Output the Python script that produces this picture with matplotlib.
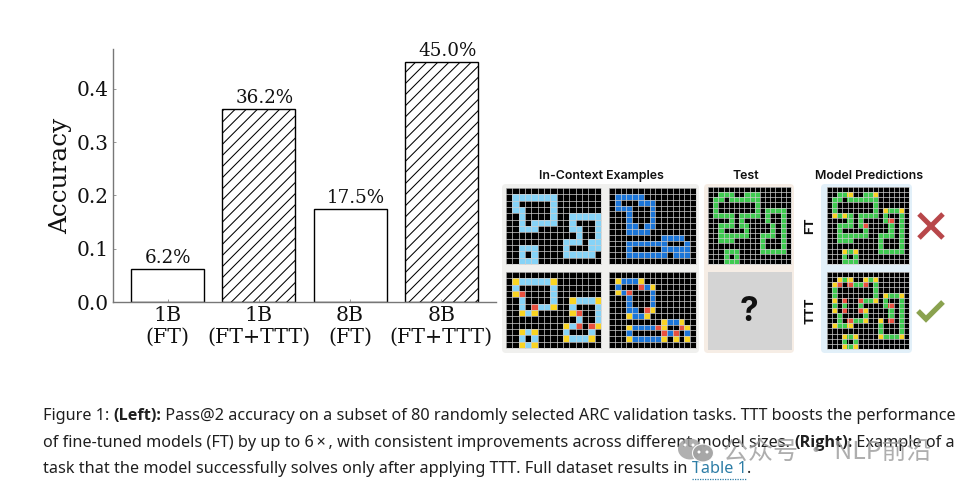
import numpy as np
import matplotlib
matplotlib.use('Agg')
import matplotlib.pyplot as plt
from matplotlib.patches import FancyBboxPatch, Ellipse, Circle
from matplotlib.colors import to_rgb
from matplotlib.transforms import offset_copy

W, H = 963, 488
plt.rcParams['hatch.linewidth'] = 0.75

categories = ['1B\n(FT)', '1B\n(FT+TTT)', '8B\n(FT)', '8B\n(FT+TTT)']
accuracy = [0.062, 0.362, 0.175, 0.450]
value_labels = ['6.2%', '36.2%', '17.5%', '45.0%']
hatches = ['', '///', '', '///']
yticks = [0.0, 0.1, 0.2, 0.3, 0.4]

palette = {'.': '#000000', 'b': '#86d3f7', 'B': '#1b75d8', 'g': '#3fca50',
           'y': '#f9d423', 'r': '#e9503f'}

ctx_a_in = [
    "...............",
    ".bbbbbbb.......",
    ".b.....b.......",
    ".bb....b.......",
    "..b....b..bbbbb",
    "..b.bbbb..b...b",
    "..bbb.....bb..b",
    "...........b..b",
    ".........bbb.bb",
    "..bbb....b...bb",
    "..b.b....bbbbb.",
    "..bbb..........",
]
ctx_a_out = [
    "...............",
    ".ybbbbby.......",
    ".b.....b.......",
    ".yr....b.......",
    "..b....b..ybbby",
    "..b.rbby..b...b",
    "..yby.....yr..b",
    "...........b..b",
    ".........ybr.ry",
    "..yby....b...b.",
    "..b.b....ybbby.",
    "..yby..........",
]
ctx_b_in = [
    "...............",
    ".BBBBB.........",
    ".B...BBB.......",
    ".BBB...B.......",
    "...B...B.......",
    "...B...B.......",
    "...BB.BB.......",
    "...BBBB........",
    ".........BBBB..",
    "...BBBBBBB...B.",
    "...B.....BBBBB.",
    "...BBBBBBB.BBB.",
    "...............",
]
ctx_b_out = [
    "...............",
    ".yBBBy.........",
    ".B...rBy.......",
    ".yBr...B.......",
    "...B...B.......",
    "...B...B.......",
    "...BB.ry.......",
    "...yBBy........",
    ".........yBBy..",
    "...yBBBBry..ry.",
    "...B.....rBr.B.",
    "...yBBBBBy.y.y.",
    "...............",
]
test_in = [
    "................",
    "..ggg..ggg......",
    ".gg.gggggg......",
    ".g.......g......",
    ".g.......g.gggg.",
    ".gggg.gggg.g..g.",
    "....g.g....g..g.",
    "..ggg.gg....g.g.",
    "..g....g....g.g.",
    "..gggggg..ggg.g.",
    "..ggg.....g...g.",
    "..........g...g.",
    "...ggg....ggggg.",
    "...g.g..........",
    "...ggg..........",
]
pred_ft = [
    "................",
    "..ggy..ggy......",
    ".gg.gggggg......",
    ".g.......g......",
    ".g.......g.yggy.",
    ".ygyg.gggg.g..g.",
    "....g.g....gr.g.",
    "..ggg.gr....g.g.",
    "..g....g....g.g.",
    "..gggggg..ggg.g.",
    "..ggg.....g...g.",
    "..........g...g.",
    "...ygy....ggggg.",
    "...g.g..........",
    "...ggg..........",
]
pred_ttt = [
    "................",
    "..ygy..ygy......",
    ".yr.rggr.g......",
    ".g.......g......",
    ".g.......g.yggy.",
    ".y.r..rggy.g..g.",
    ".g.g..g....gr.g.",
    ".y.r..ry....g.g.",
    "..g....g....g.g.",
    "..g.rggy..y.r.g.",
    ".yggy.....g...g.",
    "..........g...g.",
    "...ygy....ygggy.",
    "...g.g..........",
    "...ygy..........",
]

context_title = 'In-Context Examples'
test_title = 'Test'
pred_title = 'Model Predictions'
row_names = ['FT', 'TTT']

caption = [
    [('Figure 1: ', 'normal', '#1f1f1f'), ('(Left):', 'bold', '#1f1f1f'),
     (' Pass@2 accuracy on a subset of 80 randomly selected ARC validation tasks. TTT boosts the performance', 'normal', '#1f1f1f')],
    [('of fine-tuned models (FT) by up to 6\u2009\u00d7\u2009, with consistent improvements across different model sizes. ', 'normal', '#1f1f1f'),
     ('(Right):', 'bold', '#1f1f1f'), (' Example of a', 'normal', '#1f1f1f')],
    [('task that the model successfully solves only after applying TTT. Full dataset results in ', 'normal', '#1f1f1f'),
     ('Table 1', 'normal', '#2d7da6'), ('.', 'normal', '#1f1f1f')],
]
watermark = '公众号 · NLP前沿'

fig = plt.figure(figsize=(W / 100, H / 100), dpi=100, facecolor='white')


def frac(x0, y0, x1, y1):
    return [x0 / W, 1 - y1 / H, (x1 - x0) / W, (y1 - y0) / H]


# ---------- bar chart ----------
ax = fig.add_axes(frac(113, 49, 496, 302))
for i, (v, h) in enumerate(zip(accuracy, hatches)):
    ax.bar(i, v, width=0.8, facecolor='white', edgecolor='black', linewidth=1.0, hatch=h)
    # the printed labels with five characters sit a little right of the bar centre
    shift = 6 if len(value_labels[i]) == 5 else 0
    tr = offset_copy(ax.transData, fig=fig, x=shift, y=1, units='dots')
    ax.text(i, v + 0.002, value_labels[i], ha='center', va='bottom', family='DejaVu Serif',
            fontsize=13.2, color='#111111', transform=tr)
ax.set_xlim(-0.6, 3.6)
ax.set_ylim(0, 0.4747)
ax.set_xticks(range(4))
ax.set_xticklabels(categories, family='DejaVu Serif', fontsize=14.8, linespacing=1.17, color='#111111')
ax.set_yticks(yticks)
ax.set_yticklabels([f'{t:.1f}' for t in yticks], family='DejaVu Serif', fontsize=14.5, color='#111111')
ax.tick_params(axis='both', direction='in', length=2.5, width=0.6, color='#888888')
ax.tick_params(axis='y', pad=3)
ax.tick_params(axis='x', pad=3)
for s in ['top', 'right']:
    ax.spines[s].set_visible(False)
for s in ['left', 'bottom']:
    ax.spines[s].set_color('#777777')
    ax.spines[s].set_linewidth(1.0)
ax.set_ylabel('Accuracy', family='DejaVu Serif', fontsize=17.8, labelpad=3, color='#111111')

# ---------- overlay in pixel coordinates ----------
ov = fig.add_axes([0, 0, 1, 1], facecolor='none')
ov.axis('off')


def bg(x0, y0, x1, y1, c):
    ov.add_patch(FancyBboxPatch((x0 + 3, y0 + 3), x1 - x0 - 6, y1 - y0 - 6,
                                boxstyle='round,pad=3,rounding_size=4', fc=c, ec='none', zorder=1))


def grid(rows, x0, y0, x1, y1):
    img = np.array([[to_rgb(palette[c]) for c in r] for r in rows])
    ov.imshow(img, extent=(x0, x1, y1, y0), aspect='auto', interpolation='nearest', zorder=2)
    nr, nc = img.shape[:2]
    for i in range(nc + 1):
        x = x0 + (x1 - x0) * i / nc
        ov.plot([x, x], [y0, y1], color='#cfcfcf', lw=0.5, zorder=3)
    for j in range(nr + 1):
        y = y0 + (y1 - y0) * j / nr
        ov.plot([x0, x1], [y, y], color='#cfcfcf', lw=0.5, zorder=3)


bg(502, 184, 699, 353, '#f0f0ee')
bg(704, 184, 794, 353, '#f6ede5')
bg(821, 184, 912, 353, '#e2f0f9')
grid(ctx_a_in, 506, 188, 601, 264)
grid(ctx_b_in, 609, 188, 696, 264)
grid(ctx_a_out, 506, 272, 601, 348)
grid(ctx_b_out, 609, 272, 696, 348)
grid(test_in, 708, 187, 791, 264)
ov.add_patch(plt.Rectangle((708, 272), 84, 78, fc='#d4d4d4', ec='none', zorder=2))
ov.text(749, 312, '?', family='Inter', weight='bold', fontsize=24, ha='center', va='center', color='#111111', zorder=4)
grid(pred_ft, 827, 187, 909, 264)
grid(pred_ttt, 827, 272, 909, 349)
ov.set_xlim(0, W)
ov.set_ylim(H, 0)

for t, x in [(context_title, 601), (test_title, 746), (pred_title, 869)]:
    ov.text(x, 176, t, family='Inter', weight='semibold', fontsize=8.9, ha='center', va='center', color='#111111')
for t, y in zip(row_names, [226, 311]):
    ov.text(810, y, t, family='Inter', weight='bold', fontsize=9.5, rotation=90, ha='center', va='center', color='#111111')

ov.plot([919, 943], [214, 238], color='#b8474a', lw=3.6, solid_capstyle='butt')
ov.plot([943, 919], [214, 238], color='#b8474a', lw=3.6, solid_capstyle='butt')
ov.plot([918, 926, 943], [311, 319, 302], color='#8aa24f', lw=3.8, solid_capstyle='butt', solid_joinstyle='miter')

# ---------- caption ----------
r = fig.canvas.get_renderer()
for line, y in zip(caption, [414, 441, 467]):
    x = 43
    for txt, weight, col in line:
        fam = 'Open Sans' if weight == 'bold' else 'Noto Sans'
        t = ov.text(x, y, txt, family=fam, weight=weight, color=col, fontsize=11.7, ha='left', va='center_baseline')
        bb = t.get_window_extent(r)
        if txt == 'Table 1':
            ov.plot([x, x + bb.width], [479, 479], color='#2d7da6', lw=0.9, ls=(0, (1, 1)))
        x += bb.width

# ---------- watermark ----------
ov.add_patch(Ellipse((690, 449), 24, 21, fc='#a2a2a2', alpha=0.85, ec='none', zorder=6))
ov.add_patch(Ellipse((703, 453), 21, 18, fc='#a2a2a2', alpha=0.95, ec='white', lw=0.8, zorder=6))
for ex, ey in [(685, 445), (693, 445), (699, 452), (707, 452)]:
    ov.add_patch(Circle((ex, ey), 1.5, fc='white', ec='none', zorder=7))
ov.text(723, 452, watermark, family=['Noto Sans CJK SC', 'DejaVu Sans'], fontsize=18, color='#9a9a9a', alpha=0.8,
        ha='left', va='center', zorder=7)

fig.savefig('out.png', dpi=100)
